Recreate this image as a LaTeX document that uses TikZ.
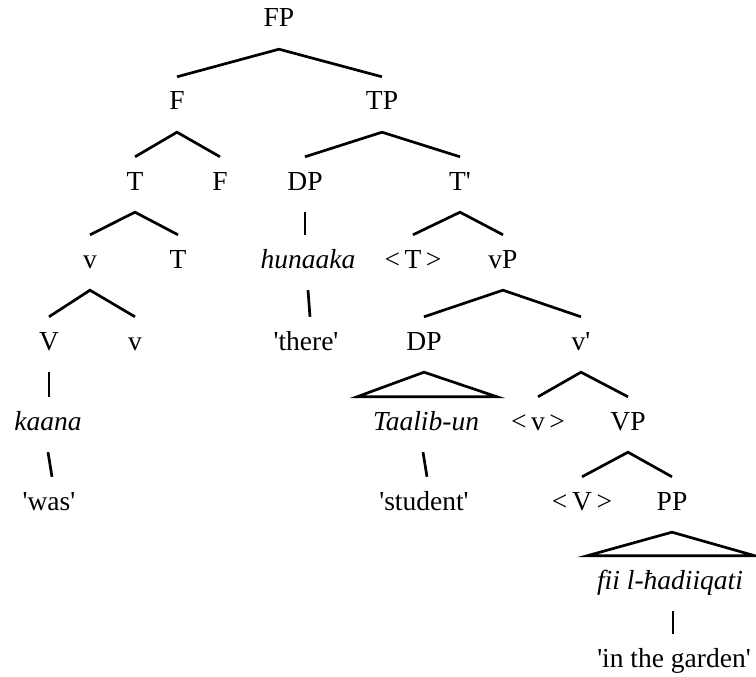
\documentclass[tikz,border=0pt]{standalone}
\usepackage{fontspec}
\setmainfont{Liberation Serif}[Ligatures=TeXOff]
\usetikzlibrary{calc}
\begin{document}
\begin{tikzpicture}[x=1pt,y=-1pt,
  lbl/.style={anchor=base,inner xsep=0pt,inner ysep=16pt,
    text height=17pt,text depth=6pt,font=\fontsize{27.5}{30}\selectfont},
  it/.style={lbl,font=\fontsize{27.5}{30}\selectfont\itshape},
  branch/.style={line width=2.7pt,line cap=butt,line join=miter}]
\useasboundingbox (0,0) rectangle (756,677);

% row 0
\node[lbl] (fp) at (279,27) {FP};
% row 1
\node[lbl] (f1) at (177,110) {F};
\node[lbl] (tp) at (382,110) {TP};
% row 2
\node[lbl] (t1) at (135,190) {T};
\node[lbl] (f2) at (220,190) {F};
\node[lbl] (dp1) at (305,190) {DP};
\node[lbl] (tbar) at (460,190) {T'};
% row 3
\node[lbl] (v1) at (90,268) {v};
\node[lbl] (t2) at (178,268) {T};
\node[it] (hun) at (308,268) {hunaaka};
\node[lbl] (tcopy) at (413,268) {<\,T\,>};
\node[lbl] (vp) at (503,268) {vP};
% row 4
\node[lbl] (V1) at (49,350) {V};
\node[lbl] (v2) at (135,350) {v};
\node[lbl] (there) at (306,350) {'there'};
\node[lbl] (dp2) at (424,350) {DP};
\node[lbl] (vbar) at (581,350) {v'};
% row 5
\node[it] (kaana) at (48,430) {kaana};
\node[it] (taalib) at (426,430) {Taalib-un};
\node[lbl] (vcopy) at (538,430) {<\,v\,>};
\node[lbl] (VP) at (628,430) {VP};
% row 6
\node[lbl] (was) at (49,510) {'was'};
\node[lbl] (student) at (424,510) {'student'};
\node[lbl] (Vcopy) at (582,510) {<\,V\,>};
\node[lbl] (pp) at (672,510) {PP};
% row 7
\node[it] (fii) at (670,589) {fii l-ħadiiqati};
% row 8
\node[lbl] (garden) at (674,667) {'in the garden'};

% branches
\draw[branch] (f1.north) -- (fp.south) -- (tp.north);
\draw[branch] (t1.north) -- (f1.south) -- (f2.north);
\draw[branch] (dp1.north) -- (tp.south) -- (tbar.north);
\draw[branch] (v1.north) -- (t1.south) -- (t2.north);
\draw[branch] (tcopy.north) -- (tbar.south) -- (vp.north);
\draw[branch] (V1.north) -- (v1.south) -- (v2.north);
\draw[branch] (dp2.north) -- (vp.south) -- (vbar.north);
\draw[branch] (vcopy.north) -- (vbar.south) -- (VP.north);
\draw[branch] (Vcopy.north) -- (VP.south) -- (pp.north);

% unary branches to lexical items and glosses
\draw[branch] (dp1.south) -- (dp1.south |- hun.north);
\draw[branch] (V1.south) -- (V1.south |- kaana.north);
\draw[branch] ([xshift=673pt-670pt]fii.south) -- ([xshift=673pt-670pt]fii.south |- garden.north);
\draw[branch] (hun.south) -- ($(hun.south |- there.north)+(2,0)$);
\draw[branch] (kaana.south) -- ($(kaana.south |- was.north)+(4,0)$);
\draw[branch] ([xshift=-3pt]taalib.south) -- ($(taalib.south |- student.north)+(1,0)$);

% triangles over unanalysed phrases
\draw[branch] (dp2.south) -- ($(taalib.north)+(71,0)$) -- ($(taalib.north)+(-69,0)$) -- cycle;
\draw[branch] (pp.south) -- ($(fii.north)+(85,0)$) -- ($(fii.north)+(-83,0)$) -- cycle;
\end{tikzpicture}
\end{document}
